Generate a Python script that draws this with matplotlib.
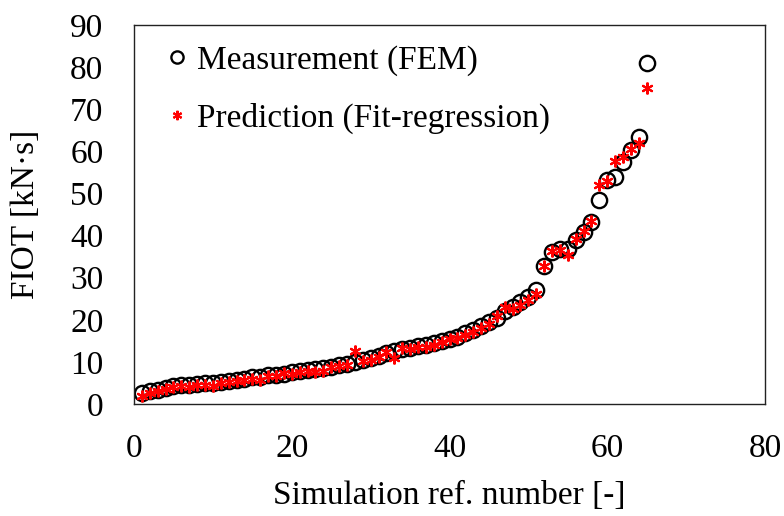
import matplotlib
matplotlib.use('Agg')
from matplotlib import pyplot as plt

# simulation reference numbers and FIOT values [kN*s]
sim_ref = list(range(1, 66))
fiot_fem = [2.5, 3.0, 3.3, 3.8, 4.2, 4.4, 4.5, 4.7, 4.9, 5.0,
            5.2, 5.5, 5.8, 6.0, 6.3, 6.5, 6.8, 7.0, 7.2, 7.5,
            7.8, 8.0, 8.3, 8.6, 8.9, 9.2, 9.6, 10.0, 10.5, 11.0,
            11.5, 12.0, 12.5, 13.0, 13.3, 13.7, 14.0, 14.5, 15.0, 15.5,
            16.0, 16.8, 17.5, 18.5, 19.5, 20.5, 22.0, 23.0, 24.2, 25.4,
            27.0, 32.7, 36.1, 36.9, 36.9, 38.9, 40.9, 43.3, 48.4, 53.2,
            54.0, 57.5, 60.3, 63.5, 81.0]
fiot_pred = [2.0, 2.6, 3.0, 3.5, 4.0, 4.3, 4.0, 4.5, 4.6, 4.3,
             5.0, 5.3, 5.4, 5.8, 6.0, 5.6, 6.6, 6.7, 7.3, 7.2,
             7.6, 7.9, 7.5, 7.8, 8.9, 9.0, 9.3, 12.5, 10.2, 10.5,
             11.2, 12.4, 11.0, 13.2, 13.0, 13.5, 13.6, 14.0, 14.8, 15.5,
             15.6, 16.5, 17.0, 18.0, 19.0, 20.8, 23.0, 22.5, 23.5, 24.8,
             26.2, 32.7, 36.3, 36.5, 35.3, 39.3, 41.0, 43.5, 52.0, 53.0,
             57.6, 58.7, 60.5, 62.0, 75.0]

plt.rcParams['font.family'] = ['Liberation Serif', 'DejaVu Serif']

fig = plt.figure(figsize=(7.84, 5.16), dpi=100)
ax = fig.add_axes([134 / 784, 1 - 404 / 516, (765 - 134) / 784, (404 - 25) / 516])

ax.plot(sim_ref, fiot_fem, linestyle='none', marker='o', markersize=11,
        markerfacecolor='none', markeredgecolor='black', markeredgewidth=1.7,
        label='Measurement (FEM)')
ax.plot(sim_ref, fiot_pred, linestyle='none', marker=(6, 2, 0), markersize=8.5,
        color='red', markeredgewidth=1.5, label='Prediction (Fit-regression)')

ax.set_xlim(0, 80)
ax.set_ylim(0, 90)
ax.set_xticks(range(0, 81, 20))
ax.set_yticks(range(0, 91, 10))
ax.tick_params(length=0, labelsize=24)
ax.tick_params(axis='x', pad=21)
ax.tick_params(axis='y', pad=22)
for s in ax.spines.values():
    s.set_color('#222222')
    s.set_linewidth(1.0)

ax.set_xlabel('Simulation ref. number [-]', fontsize=24, labelpad=12)
ax.set_ylabel('FIOT [kN·s]', fontsize=24, labelpad=21)

ax.legend(loc='upper left', frameon=False, fontsize=24, markerscale=0.8,
          handlelength=0.6, handletextpad=0.3, labelspacing=0.8,
          borderaxespad=0.2, bbox_to_anchor=(0.02, 1.0))

fig.savefig('out.png', dpi=100)
